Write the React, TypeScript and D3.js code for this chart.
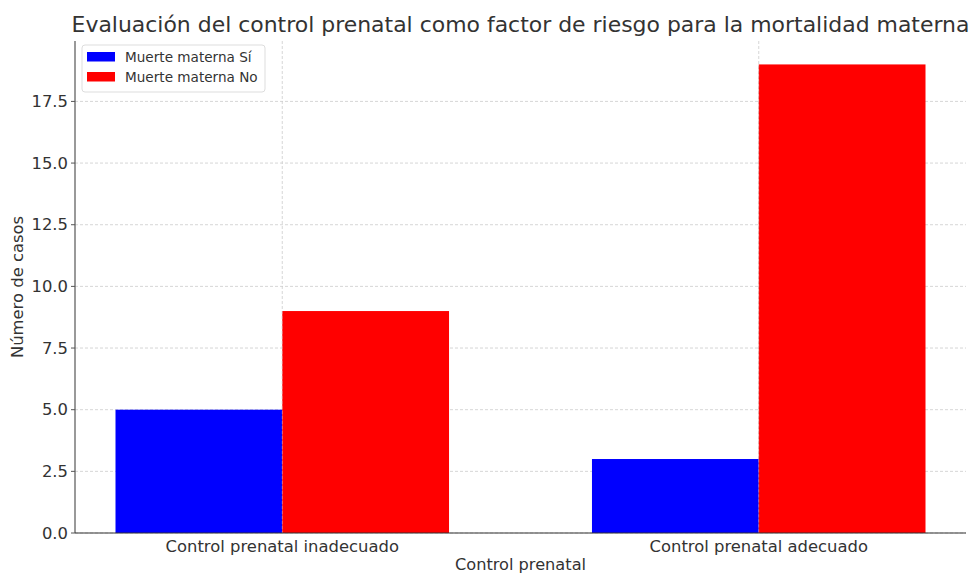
import React from "react";
import * as d3 from "d3";

const categories = ["Control prenatal inadecuado", "Control prenatal adecuado"];
const seriesNames = ["Muerte materna Sí", "Muerte materna No"];
const muerteSi = [5, 3];
const muerteNo = [9, 19];
const yTicks = [0, 2.5, 5, 7.5, 10, 12.5, 15, 17.5];
const colors = ["#0000ff", "#ff0000"];

const W = 969;
const H = 573;
const left = 75;
const right = 966;
const top = 41;
const bottom = 533;
const font = "DejaVu Sans, sans-serif";
const textColor = "#333333";

export default function App() {
  const barW = 0.35;
  const x = d3.scaleLinear().domain([-0.435, 1.435]).range([left, right]);
  const y = d3.scaleLinear().domain([0, 19.95]).range([bottom, top]);
  const series = [muerteSi, muerteNo];

  return (
    <svg
      width={W}
      height={H}
      style={{ position: "absolute", left: 0, top: 0, background: "#fff" }}
      fontFamily={font}
    >
      {yTicks.map((t) => (
        <line
          key={"gy" + t}
          x1={left}
          x2={right}
          y1={y(t)}
          y2={y(t)}
          stroke="#cccccc"
          strokeWidth={0.8}
          strokeDasharray="3,2"
        />
      ))}
      {categories.map((c, i) => (
        <line
          key={"gx" + c}
          x1={x(i)}
          x2={x(i)}
          y1={top}
          y2={bottom}
          stroke="#cccccc"
          strokeWidth={0.8}
          strokeDasharray="3,2"
        />
      ))}
      {series.map((vals, s) =>
        vals.map((v, i) => {
          const x0 = s === 0 ? x(i - barW) : x(i);
          const x1 = s === 0 ? x(i) : x(i + barW);
          return (
            <rect
              key={s + "-" + i}
              x={x0}
              y={y(v)}
              width={x1 - x0}
              height={y(0) - y(v)}
              fill={colors[s]}
            />
          );
        })
      )}
      {categories.map((c, i) => (
        <line
          key={"gx2" + c}
          x1={x(i)}
          x2={x(i)}
          y1={y(Math.max(muerteSi[i], muerteNo[i]))}
          y2={bottom}
          stroke="#dddddd"
          strokeWidth={0.6}
          strokeDasharray="3,2"
          opacity={0.6}
        />
      ))}
      <line x1={left} x2={left} y1={top} y2={bottom} stroke="#555555" strokeWidth={1.2} />
      <line x1={left} x2={right} y1={bottom} y2={bottom} stroke="#333333" strokeWidth={1.2} />
      {yTicks.map((t) => (
        <g key={"yt" + t}>
          <line x1={left - 4} x2={left} y1={y(t)} y2={y(t)} stroke="#555555" strokeWidth={1} />
          <text
            x={left - 7}
            y={y(t)}
            dy="0.35em"
            textAnchor="end"
            fontSize={16.4}
            fill={textColor}
          >
            {t.toFixed(1)}
          </text>
        </g>
      ))}
      {categories.map((c, i) => (
        <text
          key={"xt" + c}
          x={x(i)}
          y={552}
          textAnchor="middle"
          fontSize={16.4}
          fill={textColor}
        >
          {c}
        </text>
      ))}
      <text x={(left + right) / 2} y={570} textAnchor="middle" fontSize={16.2} fill={textColor}>
        Control prenatal
      </text>
      <text
        transform={`translate(23,${(top + bottom) / 2}) rotate(-90)`}
        textAnchor="middle"
        fontSize={16.4}
        fill={textColor}
      >
        Número de casos
      </text>
      <text x={(left + right) / 2} y={32} textAnchor="middle" fontSize={21.95} fill={textColor}>
        Evaluación del control prenatal como factor de riesgo para la mortalidad materna
      </text>
      <rect x={82} y={45} width={183} height={47} rx={3} fill="#ffffff" fillOpacity={0.8} stroke="#dddddd" />
      {seriesNames.map((n, i) => (
        <g key={n}>
          <rect x={87} y={52 + i * 20} width={28} height={9.5} fill={colors[i]} />
          <text x={125} y={62 + i * 20} fontSize={13.6} fill={textColor}>
            {n}
          </text>
        </g>
      ))}
    </svg>
  );
}
